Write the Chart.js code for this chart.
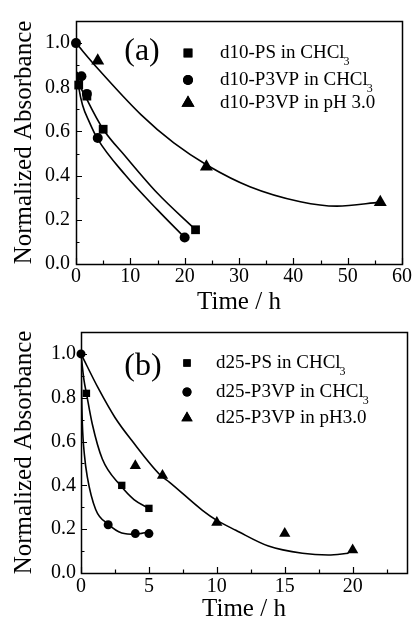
<!DOCTYPE html>
<html><head><meta charset="utf-8">
<script src="https://cdn.jsdelivr.net/npm/chart.js@4"></script>
<style>
html,body{margin:0;padding:0;background:#fff;}
body{width:414px;height:622px;position:relative;overflow:hidden;}
canvas{position:absolute;left:0;}
#ca{top:0;}
#cb{top:300px;}
</style></head>
<body>
<canvas id="ca" width="414" height="320"></canvas>
<canvas id="cb" width="414" height="322"></canvas>
<script>
// ---------- Panel (a) data ----------
const tA_PS   = [0.5, 2, 5, 22];
const yA_PS   = [0.81, 0.76, 0.61, 0.155];
const tA_P3VP = [0, 1, 2, 4, 20];
const yA_P3VP = [1.0, 0.85, 0.77, 0.57, 0.12];
const tA_pH   = [4, 24, 56];
const yA_pH   = [0.92, 0.44, 0.28];
// fitted curves
const fitA_PS_t   = [0.2, 0.6, 2, 5, 9, 15, 22];
const fitA_PS_y   = [0.87, 0.82, 0.745, 0.61, 0.49, 0.32, 0.155];
const fitA_P3VP_t = [0.1, 0.5, 1.2, 2.5, 4, 9, 15, 20];
const fitA_P3VP_y = [0.87, 0.8, 0.72, 0.64, 0.565, 0.405, 0.245, 0.12];
const fitA_pH_t   = [0, 4, 12, 18, 24.3, 32, 41.3, 48, 56];
const fitA_pH_y   = [1.0, 0.885, 0.675, 0.548, 0.445, 0.35, 0.282, 0.262, 0.28];
const legendA = ['d10-PS in CHCl', 'd10-P3VP in CHCl', 'd10-P3VP in pH 3.0'];
const legendSubA = ['3', '3', ''];

// ---------- Panel (b) data ----------
const tB_PS   = [0.4, 3, 5];
const yB_PS   = [0.82, 0.40, 0.295];
const tB_P3VP = [0, 2, 4, 5];
const yB_P3VP = [1.0, 0.22, 0.18, 0.18];
const tB_pH   = [4, 6, 10, 15, 20];
const yB_pH   = [0.49, 0.445, 0.23, 0.18, 0.105];
const fitB_PS_t   = [0, 0.22, 0.4, 0.83, 1.57, 2.9, 3.9, 5];
const fitB_PS_y   = [1.0, 0.88, 0.82, 0.68, 0.52, 0.40, 0.335, 0.295];
const fitB_P3VP_t = [0, 0.03, 0.1, 0.25, 0.46, 1.08, 2, 3, 4, 5];
const fitB_P3VP_y = [1.0, 0.86, 0.68, 0.54, 0.44, 0.29, 0.223, 0.183, 0.177, 0.188];
const fitB_pH_t   = [0, 1.3, 2.5, 3.8, 5.87, 6.5, 8.94, 10, 11.4, 13.8, 16.3, 18.2, 19.7];
const fitB_pH_y   = [1.0, 0.84, 0.71, 0.6, 0.445, 0.415, 0.286, 0.24, 0.195, 0.123, 0.09, 0.082, 0.09];
const legendB = ['d25-PS in CHCl', 'd25-P3VP in CHCl', 'd25-P3VP in pH3.0'];
const legendSubB = ['3', '3', ''];

const FONT = '"Liberation Serif", "Times New Roman", serif';

function pts(xs, ys) { return xs.map((x, i) => ({x: x, y: ys[i]})); }
function markDs(label, xs, ys, style, r) {
  return {label: label, data: pts(xs, ys), pointStyle: style, pointRadius: r, pointHoverRadius: r,
    backgroundColor: '#000', borderColor: '#000', borderWidth: 0, showLine: false, clip: false, order: 0};
}
function curveDs(xs, ys) {
  return {label: 'fit', data: pts(xs, ys), showLine: true, pointRadius: 0, borderColor: '#000',
    borderWidth: 1.6, fill: false, cubicInterpolationMode: 'monotone', order: 1};
}

const framePlugin = {
  id: 'frame',
  afterDraw(chart, args, o) {
    const ctx = chart.ctx, a = chart.chartArea, x = chart.scales.x, y = chart.scales.y;
    ctx.save();
    ctx.strokeStyle = '#000';
    ctx.lineWidth = 1.5;
    ctx.strokeRect(Math.round(a.left) + 0.5, Math.round(a.top) + 0.5, Math.round(a.right - a.left), Math.round(a.bottom - a.top));
    ctx.lineWidth = 1.2;
    ctx.beginPath();
    const nx = Math.round((x.max - x.min) / o.xMinor);
    for (let k = 0; k <= nx; k++) {
      const v = x.min + k * o.xMinor;
      const px = Math.round(x.getPixelForValue(v)) + 0.5;
      const major = Math.abs(v / o.xMajor - Math.round(v / o.xMajor)) < 1e-6;
      ctx.moveTo(px, a.bottom); ctx.lineTo(px, a.bottom - (major ? 6 : 3.5));
    }
    const ny = Math.round((y.max - y.min) / o.yMinor);
    for (let k = 0; k <= ny; k++) {
      const v = y.min + k * o.yMinor;
      const py = Math.round(y.getPixelForValue(v)) + 0.5;
      const major = Math.abs(v / o.yMajor - Math.round(v / o.yMajor)) < 1e-6;
      ctx.moveTo(a.left, py); ctx.lineTo(a.left + (major ? 6 : 3.5), py);
    }
    ctx.stroke();
    // panel label
    ctx.fillStyle = '#000';
    ctx.font = '32px ' + FONT;
    ctx.textAlign = 'center';
    ctx.textBaseline = 'middle';
    ctx.fillText(o.panel, o.panelX, o.panelY);
    // legend
    const styles = ['rect', 'circle', 'triangle'];
    for (let i = 0; i < 3; i++) {
      const ds = chart.data.datasets[i];
      Chart.helpers.drawPoint(ctx, {pointStyle: styles[i], radius: ds.pointRadius, rotation: 0, borderWidth: 0},
        o.legX, o.legY[i]);
      ctx.fill();
      ctx.font = '19px ' + FONT;
      ctx.textAlign = 'left';
      ctx.textBaseline = 'middle';
      const t = o.legText[i];
      ctx.fillText(t, o.legTextX, o.legY[i]);
      if (o.legSub[i]) {
        const w = ctx.measureText(t).width;
        ctx.font = '12px ' + FONT;
        ctx.fillText(o.legSub[i], o.legTextX + w - 1, o.legY[i] + 9);
      }
    }
    ctx.restore();
  }
};

function build(id, p) {
  return new Chart(document.getElementById(id), {
    type: 'scatter',
    data: {datasets: [
      markDs(p.legText[0], p.m[0][0], p.m[0][1], 'rect', p.r[0]),
      markDs(p.legText[1], p.m[1][0], p.m[1][1], 'circle', p.r[1]),
      markDs(p.legText[2], p.m[2][0], p.m[2][1], 'triangle', p.r[2]),
      curveDs(p.f[0][0], p.f[0][1]),
      curveDs(p.f[1][0], p.f[1][1]),
      curveDs(p.f[2][0], p.f[2][1])
    ]},
    options: {
      responsive: false, animation: false, devicePixelRatio: 1,
      layout: {padding: p.pad},
      plugins: {legend: {display: false}, tooltip: {enabled: false}, frame: p.frame},
      scales: {
        x: {type: 'linear', min: 0, max: p.xMax,
          border: {display: false}, grid: {display: false, drawTicks: false},
          ticks: {stepSize: p.frame.xMajor, includeBounds: false, color: '#000', padding: p.xTickPad,
            font: {family: FONT, size: 20}, maxRotation: 0, autoSkip: false},
          title: {display: true, text: 'Time / h', color: '#000', font: {family: FONT, size: 25, lineHeight: 1},
            padding: {top: 0, bottom: p.xTitlePad}},
          afterFit(s) { s.height = p.xH; }
        },
        y: {type: 'linear', min: 0, max: 1.1,
          border: {display: false}, grid: {display: false, drawTicks: false},
          ticks: {stepSize: 0.2, includeBounds: false, color: '#000', padding: p.yTickPad,
            font: {family: FONT, size: 20}, callback: v => v.toFixed(1)},
          title: {display: true, text: 'Normalized Absorbance', color: '#000', font: {family: FONT, size: 25, lineHeight: 1},
            padding: {top: p.yTitlePad, bottom: 0}},
          afterFit(s) { s.width = p.yW; }
        }
      }
    },
    plugins: [framePlugin]
  });
}

build('ca', {
  m: [[tA_PS, yA_PS], [tA_P3VP, yA_P3VP], [tA_pH, yA_pH]],
  f: [[fitA_PS_t, fitA_PS_y], [fitA_P3VP_t, fitA_P3VP_y], [fitA_pH_t, fitA_pH_y]],
  r: [6.2, 5, 7.5],
  legText: legendA,
  xMax: 60, pad: {top: 21, right: 12, bottom: 0, left: 0},
  xH: 56, yW: 76, xTickPad: 1, yTickPad: 6, xTitlePad: 5, yTitlePad: 12,
  frame: {xMajor: 10, xMinor: 5, yMajor: 0.2, yMinor: 0.1, panel: '(a)', panelX: 142, panelY: 52,
    legX: 188, legY: [53, 80, 103], legTextX: 220, legText: legendA, legSub: legendSubA}
});

build('cb', {
  m: [[tB_PS, yB_PS], [tB_P3VP, yB_P3VP], [tB_pH, yB_pH]],
  f: [[fitB_PS_t, fitB_PS_y], [fitB_P3VP_t, fitB_P3VP_y], [fitB_pH_t, fitB_pH_y]],
  r: [5.2, 4.5, 6.5],
  legText: legendB,
  xMax: 24, pad: {top: 32, right: 7, bottom: 0, left: 0},
  xH: 49, yW: 81, xTickPad: 2, yTickPad: 5, xTitlePad: 0, yTitlePad: 12,
  frame: {xMajor: 5, xMinor: 2.5, yMajor: 0.2, yMinor: 0.1, panel: '(b)', panelX: 143, panelY: 67,
    legX: 187, legY: [63, 92, 118], legTextX: 216, legText: legendB, legSub: legendSubB}
});
</script>
</body></html>
